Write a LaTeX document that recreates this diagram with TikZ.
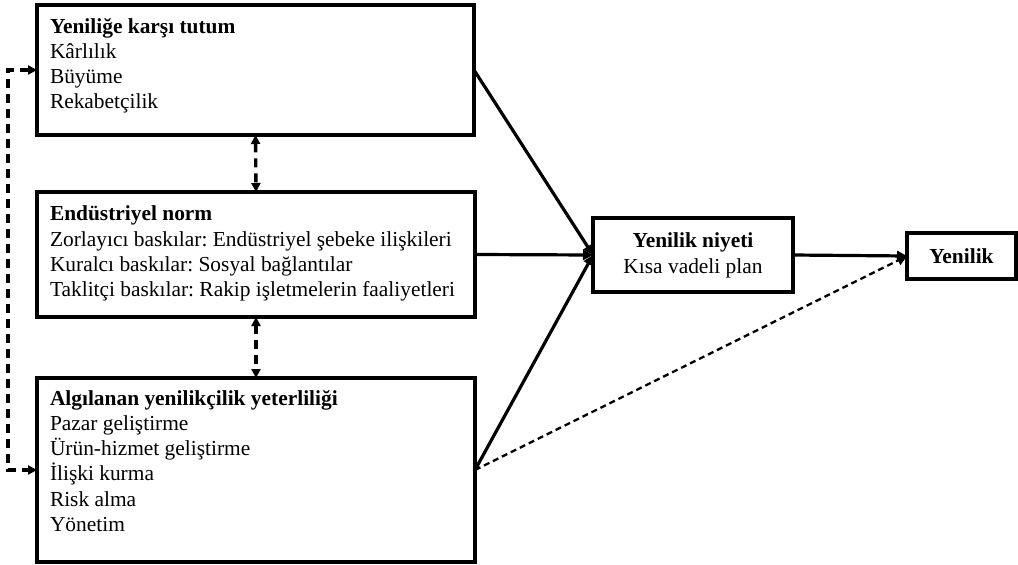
\documentclass[tikz,border=0pt]{standalone}
\usepackage{fontspec}
\setmainfont{Liberation Serif}
\usetikzlibrary{arrows.meta}
\begin{document}
\frenchspacing
\begin{tikzpicture}[x=1pt,y=-1pt,
  box/.style={draw,line width=3.4pt,rectangle,inner sep=0pt,outer sep=0pt},
  txt/.style={inner sep=0pt,outer sep=0pt,anchor=base west},
  ctxt/.style={inner sep=0pt,outer sep=0pt,anchor=base},
  tip/.style={-{Triangle[length=10pt,width=10pt]}},
  solidarr/.style={line width=3.2pt,tip},
  dasharr/.style={line width=3.4pt,dash pattern=on 9pt off 6pt,
    {Triangle[length=9pt,width=9pt]}-{Triangle[length=9pt,width=9pt]}},
  thindash/.style={line width=2.3pt,dash pattern=on 6pt off 4pt,tip}
]
\useasboundingbox (0,0) rectangle (1018,565);
\fontsize{21.4}{25.3}\selectfont
% boxes
\node[box,minimum width=437pt,minimum height=130pt] (b1) at (255.5,70) {};
\node[box,minimum width=438pt,minimum height=125pt] (b2) at (256,254.5) {};
\node[box,minimum width=438pt,minimum height=184pt] (b3) at (256,470) {};
\node[box,minimum width=200pt,minimum height=74pt] (b4) at (693,255) {};
\node[box,minimum width=109pt,minimum height=46pt] (b5) at (961.5,256) {};
% texts
\node[txt] (t1) at (50,33) {\parbox[t]{420pt}{\raggedright\textbf{Yeniliğe karşı tutum}\\Kârlılık\\Büyüme\\Rekabetçilik}};
\node[txt] (t2) at (50,220.7) {\parbox[t]{420pt}{\raggedright\textbf{Endüstriyel norm}\\Zorlayıcı baskılar: Endüstriyel şebeke ilişkileri\\Kuralcı baskılar: Sosyal bağlantılar\\Taklitçi baskılar: Rakip işletmelerin faaliyetleri}};
\node[txt] (t3) at (50,405) {\parbox[t]{420pt}{\raggedright\textbf{Algılanan yenilikçilik yeterliliği}\\Pazar geliştirme\\Ürün-hizmet geliştirme\\İlişki kurma\\Risk alma\\Yönetim}};
\node[ctxt] (t4) at (693,247.7) {\parbox[t]{200pt}{\centering\textbf{Yenilik niyeti}\\Kısa vadeli plan}};
\node[ctxt] (t5) at (961.5,263) {\textbf{Yenilik}};
% connectors
\draw[solidarr] (b1.east) -- (b4.west);
\draw[solidarr] (b2.east) -- (b4.west);
\draw[solidarr] (b3.east) -- (b4.west);
\draw[solidarr] (b4.east) -- (b5.west);
\draw[thindash] (b3.east) -- (b5.west);
\draw[dasharr] (b1.south) -- (b2.north);
\draw[dasharr] (b2.south) -- (b3.north);
\draw[dasharr] (b1.west) -- ++(-29,0) |- (b3.west);
\end{tikzpicture}
\end{document}
